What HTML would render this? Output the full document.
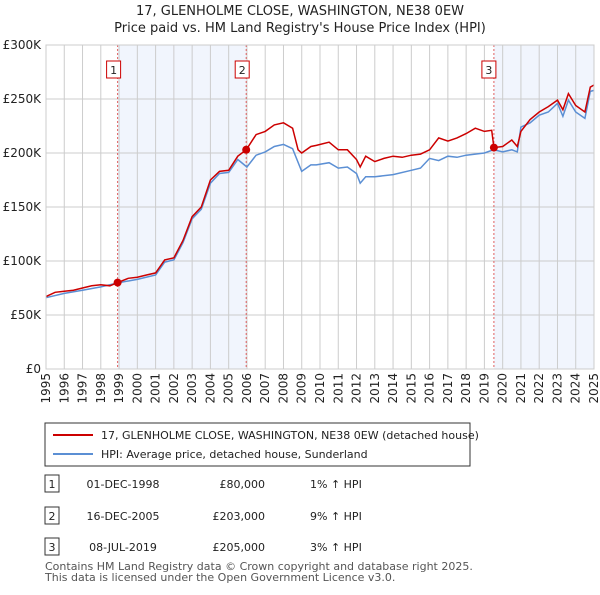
<!DOCTYPE html>
<html><head><meta charset="utf-8"><style>
body{margin:0;background:#fff;font-family:"Liberation Sans","DejaVu Sans",sans-serif;}
svg text{font-family:"DejaVu Sans","Liberation Sans",sans-serif;}
</style></head><body>
<svg id="c" width="600" height="590" viewBox="0 0 600 590" xmlns="http://www.w3.org/2000/svg">
<text x="300" y="15" text-anchor="middle" font-size="13" fill="#222">17, GLENHOLME CLOSE, WASHINGTON, NE38 0EW</text>
<text x="300" y="32" text-anchor="middle" font-size="13" fill="#222">Price paid vs. HM Land Registry's House Price Index (HPI)</text>
<g id="plot"></g>
<rect x="45" y="423" width="425" height="43" fill="#fff" stroke="#333"/>
<line x1="53" y1="435" x2="93" y2="435" stroke="#cc0000" stroke-width="2"/>
<text x="101" y="439" font-size="11" fill="#222">17, GLENHOLME CLOSE, WASHINGTON, NE38 0EW (detached house)</text>
<line x1="53" y1="454" x2="93" y2="454" stroke="#5b8fd4" stroke-width="2"/>
<text x="101" y="458" font-size="11" fill="#222">HPI: Average price, detached house, Sunderland</text>
<g id="tbl"></g>
<text x="45" y="570" font-size="11" fill="#555">Contains HM Land Registry data © Crown copyright and database right 2025.</text>
<text x="45" y="581" font-size="11" fill="#555">This data is licensed under the Open Government Licence v3.0.</text>
</svg>
<script>
const yearTicks=[1995,1996,1997,1998,1999,2000,2001,2002,2003,2004,2005,2006,2007,2008,2009,2010,2011,2012,2013,2014,2015,2016,2017,2018,2019,2020,2021,2022,2023,2024,2025];
const valueTicks=[0,50,100,150,200,250,300];
const valueLabels=["£0","£50K","£100K","£150K","£200K","£250K","£300K"];
const redX=[1995,1995.5,1996,1996.5,1997,1997.5,1998,1998.5,1998.92,1999.5,2000,2000.5,2001,2001.5,2002,2002.5,2003,2003.5,2004,2004.5,2005,2005.5,2005.96,2006.5,2007,2007.5,2008,2008.5,2008.8,2009,2009.5,2009.8,2010.5,2011,2011.5,2012,2012.2,2012.5,2013,2013.5,2014,2014.5,2015,2015.5,2016,2016.5,2017,2017.5,2018,2018.5,2019,2019.4,2019.52,2020,2020.5,2020.8,2021,2021.5,2022,2022.5,2023,2023.3,2023.6,2024,2024.5,2024.8,2025];
const redV=[67,71,72,73,75,77,78,77,80,84,85,87,89,101,103,119,141,150,175,183,184,197,203,217,220,226,228,223,203,200,206,207,210,203,203,194,187,197,192,195,197,196,198,199,203,214,211,214,218,223,220,221,205,206,212,206,220,231,238,243,249,240,255,244,238,261,263];
const blueX=[1995,1996,1997,1998,1999,2000,2001,2001.5,2002,2002.5,2003,2003.5,2004,2004.5,2005,2005.5,2006,2006.5,2007,2007.5,2008,2008.5,2009,2009.5,2009.8,2010.5,2011,2011.5,2012,2012.2,2012.5,2013,2014,2015,2015.5,2016,2016.5,2017,2017.5,2018,2019,2019.5,2020,2020.5,2020.8,2021,2021.5,2022,2022.5,2023,2023.3,2023.6,2024,2024.5,2024.8,2025];
const blueV=[66,70,73,76,80,83,87,99,101,117,139,148,172,181,182,194,187,198,201,206,208,204,183,189,189,191,186,187,181,172,178,178,180,184,186,195,193,197,196,198,200,203,201,203,201,224,228,235,238,246,234,249,238,232,257,258];
const saleX=[1998.92,2005.96,2019.52];
const saleV=[80,203,205];
const saleLabels=["1","2","3"];
const saleDates=["01-DEC-1998","16-DEC-2005","08-JUL-2019"];
const salePrices=["£80,000","£203,000","£205,000"];
const saleHpi=["1% ↑ HPI","9% ↑ HPI","3% ↑ HPI"];
const NS="http://www.w3.org/2000/svg";
const L=46,R=594,T=45,B=369;
const xs=y=>L+(y-1995)*(R-L)/30;
const ys=v=>B-v*(B-T)/300;
const g=document.getElementById('plot');
function mk(tag,attrs,parent){const e=document.createElementNS(NS,tag);for(const k in attrs)e.setAttribute(k,attrs[k]);(parent||g).appendChild(e);return e;}
let sh=mk('rect',{x:xs(saleX[0]),y:T,width:xs(saleX[1])-xs(saleX[0]),height:B-T,fill:'#eef3fc',opacity:0.8});


let sh2=mk('rect',{x:xs(saleX[2]),y:T,width:R-xs(saleX[2]),height:B-T,fill:'#eef3fc',opacity:0.8});


yearTicks.forEach(yr=>{
 let l=mk('line',{x1:xs(yr),x2:xs(yr),y1:T,y2:B,stroke:'#cccccc'});
 
 
 const tx=xs(yr)+4, ty=B+4;
 let t=mk('text',{x:tx,y:ty,'text-anchor':'end','font-size':12,fill:'#222',transform:'rotate(-90 '+tx+' '+ty+')'});
 t.textContent=yr;
 
 
});
valueTicks.forEach((v,i)=>{
 let l=mk('line',{x1:L,x2:R,y1:ys(v),y2:ys(v),stroke:'#cccccc'});
 
 
 let t=mk('text',{x:L-5,y:ys(v)+4,'text-anchor':'end','font-size':12,fill:'#222'});
 t.textContent=valueLabels[i];
 
 
});
saleX.forEach((s,i)=>{
 let l=mk('line',{x1:xs(s),x2:xs(s),y1:T,y2:B,stroke:'#e06060','stroke-dasharray':'2,2'});
 
 
});
const pts=(X,V)=>X.map((x,i)=>xs(x).toFixed(1)+','+ys(V[i]).toFixed(1)).join(' ');
let bl=mk('polyline',{points:pts(blueX,blueV),fill:'none',stroke:'#5b8fd4','stroke-width':1.5});


let rl=mk('polyline',{points:pts(redX,redV),fill:'none',stroke:'#cc0000','stroke-width':1.5});


saleX.forEach((s,i)=>{
 let c=mk('circle',{cx:xs(s),cy:ys(saleV[i]),r:4,fill:'#cc0000'});
 
 
 let bx=xs(s)-(i==2?12:11);
 let r=mk('rect',{x:bx,y:61,width:14,height:17,fill:'#fff',stroke:'#cc0000'});
 
 
 let t=mk('text',{x:bx+7,y:74,'text-anchor':'middle','font-size':11,fill:'#222'});
 t.textContent=saleLabels[i];
 
 
});
let fr=mk('rect',{x:L,y:T,width:R-L,height:B-T,fill:'none',stroke:'#cccccc'});


const tb=document.getElementById('tbl');
const rowsY=[484,516,547];
saleLabels.forEach((lab,i)=>{
 const y=rowsY[i];
 let r=mk('rect',{x:45,y:y-9,width:14,height:17,fill:'#fff',stroke:'#333'},tb);
 
 
 let t=mk('text',{x:52,y:y+4,'text-anchor':'middle','font-size':11,fill:'#222'},tb);t.textContent=lab;
 
 
 let d=mk('text',{x:123,y:y+4,'text-anchor':'middle','font-size':11,fill:'#222'},tb);d.textContent=saleDates[i];
 
 
 let p=mk('text',{x:265,y:y+4,'text-anchor':'end','font-size':11,fill:'#222'},tb);p.textContent=salePrices[i];
 
 
 let h=mk('text',{x:310,y:y+4,'font-size':11,fill:'#222'},tb);h.textContent=saleHpi[i];
 
 
});
</script>
</body></html>
